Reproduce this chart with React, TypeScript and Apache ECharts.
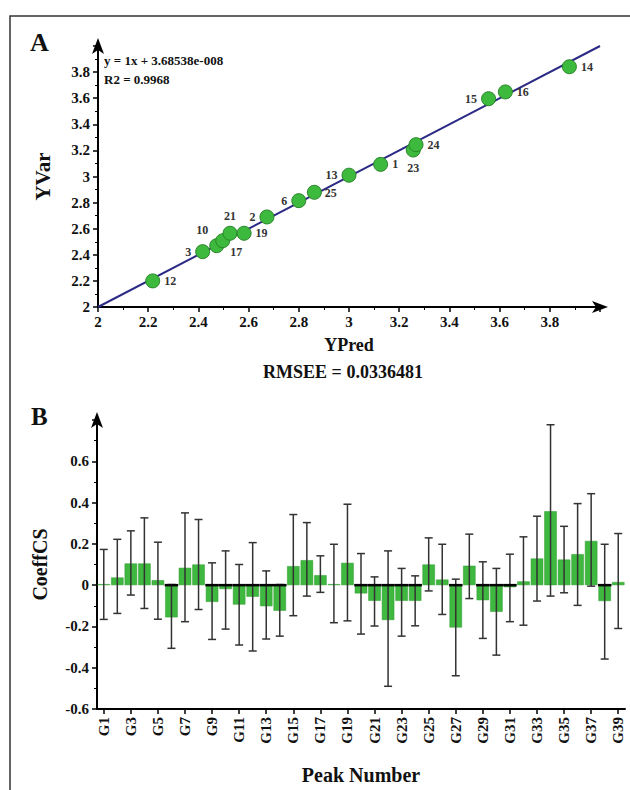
import React, { useEffect, useRef } from "react";
import * as echarts from "echarts";

const FONT = '"Liberation Serif", "Times New Roman", serif';

// Panel A: YPred / YVar scatter with sample numbers
const sampleIds = ["12", "3", "10", "17", "21", "19", "2", "6", "25", "13", "1", "23", "24", "15", "16", "14"];
const yPred = [2.218, 2.417, 2.473, 2.497, 2.526, 2.582, 2.673, 2.8, 2.862, 3.0, 3.126, 3.256, 3.267, 3.556, 3.623, 3.878];
const yVar = [2.2, 2.424, 2.47, 2.508, 2.565, 2.565, 2.69, 2.815, 2.879, 3.01, 3.093, 3.203, 3.244, 3.596, 3.648, 3.841];
const labelPos = ["right", "left", "tl", "br", "top", "right", "left", "left", "r2", "left", "right", "bottom", "right", "left", "right", "right"];
const fitLine = [[2, 2], [4, 4]];

// Panel B: coefficients with error bars
const peaks = Array.from({ length: 39 }, (_, i) => "G" + (i + 1));
const coeff = [0.005, 0.037, 0.105, 0.105, 0.024, -0.156, 0.084, 0.1, -0.081, -0.019, -0.094, -0.056, -0.102, -0.124, 0.092, 0.121, 0.048, 0.005, 0.108, -0.04, -0.076, -0.169, -0.076, -0.076, 0.1, 0.027, -0.205, 0.094, -0.073, -0.129, -0.01, 0.018, 0.129, 0.358, 0.124, 0.15, 0.214, -0.077, 0.015];
const errHigh = [0.173, 0.222, 0.263, 0.326, 0.208, 0.003, 0.35, 0.318, 0.108, 0.166, 0.1, 0.206, 0.069, 0.003, 0.342, 0.303, 0.142, 0.198, 0.392, 0.153, 0.04, 0.166, 0.081, 0.045, 0.229, 0.198, 0.029, 0.247, 0.113, 0.081, 0.15, 0.234, 0.334, 0.777, 0.285, 0.395, 0.443, 0.198, 0.25];
const errLow = [-0.166, -0.137, -0.048, -0.113, -0.165, -0.306, -0.177, -0.118, -0.263, -0.213, -0.29, -0.319, -0.261, -0.247, -0.148, -0.053, -0.035, -0.182, -0.173, -0.237, -0.198, -0.49, -0.247, -0.197, -0.028, -0.142, -0.439, -0.065, -0.258, -0.339, -0.177, -0.194, -0.077, -0.053, -0.037, -0.098, -0.005, -0.358, -0.21];

const boldText = (size: number) => ({ fontFamily: FONT, fontWeight: "bold" as const, fontSize: size, color: "#111" });

function labelFor(pos: string) {
  const base = { show: true, fontFamily: FONT, fontWeight: "bold" as const, fontSize: 12, color: "#333", distance: 4 };
  if (pos === "tl") return { ...base, position: [-7, -8], align: "center", verticalAlign: "middle" };
  if (pos === "br") return { ...base, position: [21, 19], align: "center", verticalAlign: "middle" };
  if (pos === "r2") return { ...base, position: [24, 8], align: "center", verticalAlign: "middle" };
  return { ...base, position: pos };
}

export default function App() {
  const ref = useRef<HTMLDivElement>(null);
  useEffect(() => {
    if (!ref.current) return;
    const chart = echarts.init(ref.current, null, { renderer: "svg" });
    const axisLineStyle = { color: "#000", width: 2 };
    const scatterData = yPred.map((x, i) => ({
      name: sampleIds[i],
      value: [x, yVar[i]],
      label: labelFor(labelPos[i]),
    }));
    const errData = peaks.map((_, i) => [i, errHigh[i], errLow[i], coeff[i]]);
    chart.setOption({
      animation: false,
      backgroundColor: "#fff",
      grid: [
        { left: 98, top: 46, width: 502, height: 261 },
        { left: 97, top: 420, width: 528, height: 289 },
      ],
      xAxis: [
        {
          gridIndex: 0,
          type: "value",
          min: 2,
          max: 4,
          interval: 0.2,
          axisLine: { show: true, symbol: ["none", "arrow"], symbolSize: [9, 16], symbolOffset: [0, 8], lineStyle: axisLineStyle },
          axisTick: { show: true, length: 5, lineStyle: { color: "#000", width: 1.5 } },
          minorTick: { show: true, splitNumber: 2, length: 3, lineStyle: { color: "#000", width: 1 } },
          splitLine: { show: false },
          axisLabel: { ...boldText(15), showMaxLabel: false, margin: 7 },
          name: "YPred",
          nameLocation: "middle",
          nameGap: 29,
          nameTextStyle: boldText(18),
        },
        {
          gridIndex: 1,
          type: "category",
          data: peaks,
          axisLine: { show: true, onZero: false, lineStyle: axisLineStyle },
          axisTick: { show: true, alignWithLabel: true, interval: 1, length: 5, lineStyle: { color: "#000", width: 1.5 } },
          axisLabel: { ...boldText(15), interval: 1, rotate: 90, margin: 8 },
          splitLine: { show: false },
          name: "Peak Number",
          nameLocation: "middle",
          nameGap: 56,
          nameTextStyle: boldText(20),
        },
      ],
      yAxis: [
        {
          gridIndex: 0,
          type: "value",
          min: 2,
          max: 4,
          interval: 0.2,
          axisLine: { show: true, symbol: ["none", "arrow"], symbolSize: [9, 16], symbolOffset: [0, 8], lineStyle: axisLineStyle },
          axisTick: { show: true, length: 5, lineStyle: { color: "#000", width: 1.5 } },
          minorTick: { show: true, splitNumber: 2, length: 3, lineStyle: { color: "#000", width: 1 } },
          splitLine: { show: false },
          axisLabel: { ...boldText(15), showMaxLabel: false, margin: 8 },
          name: "YVar",
          nameLocation: "middle",
          nameGap: 45,
          nameTextStyle: boldText(21),
        },
        {
          gridIndex: 1,
          type: "value",
          min: -0.6,
          max: 0.8,
          interval: 0.2,
          axisLine: { show: true, onZero: false, symbol: ["none", "arrow"], symbolSize: [9, 16], symbolOffset: [0, 8], lineStyle: axisLineStyle },
          axisTick: { show: true, length: 5, lineStyle: { color: "#000", width: 1.5 } },
          minorTick: { show: true, splitNumber: 2, length: 3, lineStyle: { color: "#000", width: 1 } },
          splitLine: { show: false },
          axisLabel: { ...boldText(15), showMaxLabel: false, margin: 8 },
          name: "CoeffCS",
          nameLocation: "middle",
          nameGap: 47,
          nameTextStyle: boldText(20),
        },
      ],
      series: [
        {
          type: "line",
          xAxisIndex: 0,
          yAxisIndex: 0,
          data: fitLine,
          symbol: "none",
          lineStyle: { color: "#2b2a85", width: 2 },
          z: 2,
        },
        {
          type: "scatter",
          xAxisIndex: 0,
          yAxisIndex: 0,
          data: scatterData,
          symbolSize: 14,
          itemStyle: { color: "#3dba3d", borderColor: "#2a842a", borderWidth: 1, opacity: 1 },
          label: { show: true, formatter: "{b}" },
          z: 3,
        },
        {
          type: "bar",
          xAxisIndex: 1,
          yAxisIndex: 1,
          data: coeff,
          barCategoryGap: "8%",
          itemStyle: { color: "#3fb83f", borderColor: "#2f9a2f", borderWidth: 0.5 },
          z: 2,
        },
        {
          type: "custom",
          xAxisIndex: 1,
          yAxisIndex: 1,
          data: errData,
          encode: { x: 0, y: [1, 2] },
          z: 4,
          renderItem: (params: any, api: any) => {
            const i = api.value(0);
            const hi = api.coord([i, api.value(1)]);
            const lo = api.coord([i, api.value(2)]);
            const z0 = api.coord([i, 0]);
            const bw = api.size([1, 0])[0];
            const cap = 4;
            const st = { stroke: "#333", lineWidth: 1.5 };
            const children: any[] = [
              { type: "line", shape: { x1: hi[0], y1: hi[1], x2: lo[0], y2: lo[1] }, style: st },
              { type: "line", shape: { x1: hi[0] - cap, y1: hi[1], x2: hi[0] + cap, y2: hi[1] }, style: st },
              { type: "line", shape: { x1: lo[0] - cap, y1: lo[1], x2: lo[0] + cap, y2: lo[1] }, style: st },
            ];
            if (api.value(3) < 0) {
              children.push({
                type: "line",
                shape: { x1: z0[0] - bw / 2, y1: z0[1], x2: z0[0] + bw / 2, y2: z0[1] },
                style: { stroke: "#000", lineWidth: 2.5 },
              });
            }
            return { type: "group", children };
          },
        },
      ],
      graphic: [
        { type: "rect", shape: { x: 10, y: 16, width: 700, height: 800 }, style: { fill: "none", stroke: "#333", lineWidth: 1.5 }, silent: true },
        { type: "text", left: 30, top: 29, style: { text: "A", font: `bold 26px ${FONT}`, fill: "#111" } },
        { type: "text", left: 31, top: 404, style: { text: "B", font: `bold 25px ${FONT}`, fill: "#111" } },
        { type: "text", left: 104, top: 54, style: { text: "y = 1x + 3.68538e-008", font: `bold 13px ${FONT}`, fill: "#111" } },
        { type: "text", left: 104, top: 73, style: { text: "R2 = 0.9968", font: `bold 13px ${FONT}`, fill: "#111" } },
        { type: "text", x: 343, y: 372, style: { text: "RMSEE = 0.0336481", font: `bold 18px ${FONT}`, fill: "#111", align: "center", verticalAlign: "middle" } },
      ],
    });
    return () => chart.dispose();
  }, []);
  return <div ref={ref} style={{ position: "absolute", left: 0, top: 0, width: 630, height: 790 }} />;
}
